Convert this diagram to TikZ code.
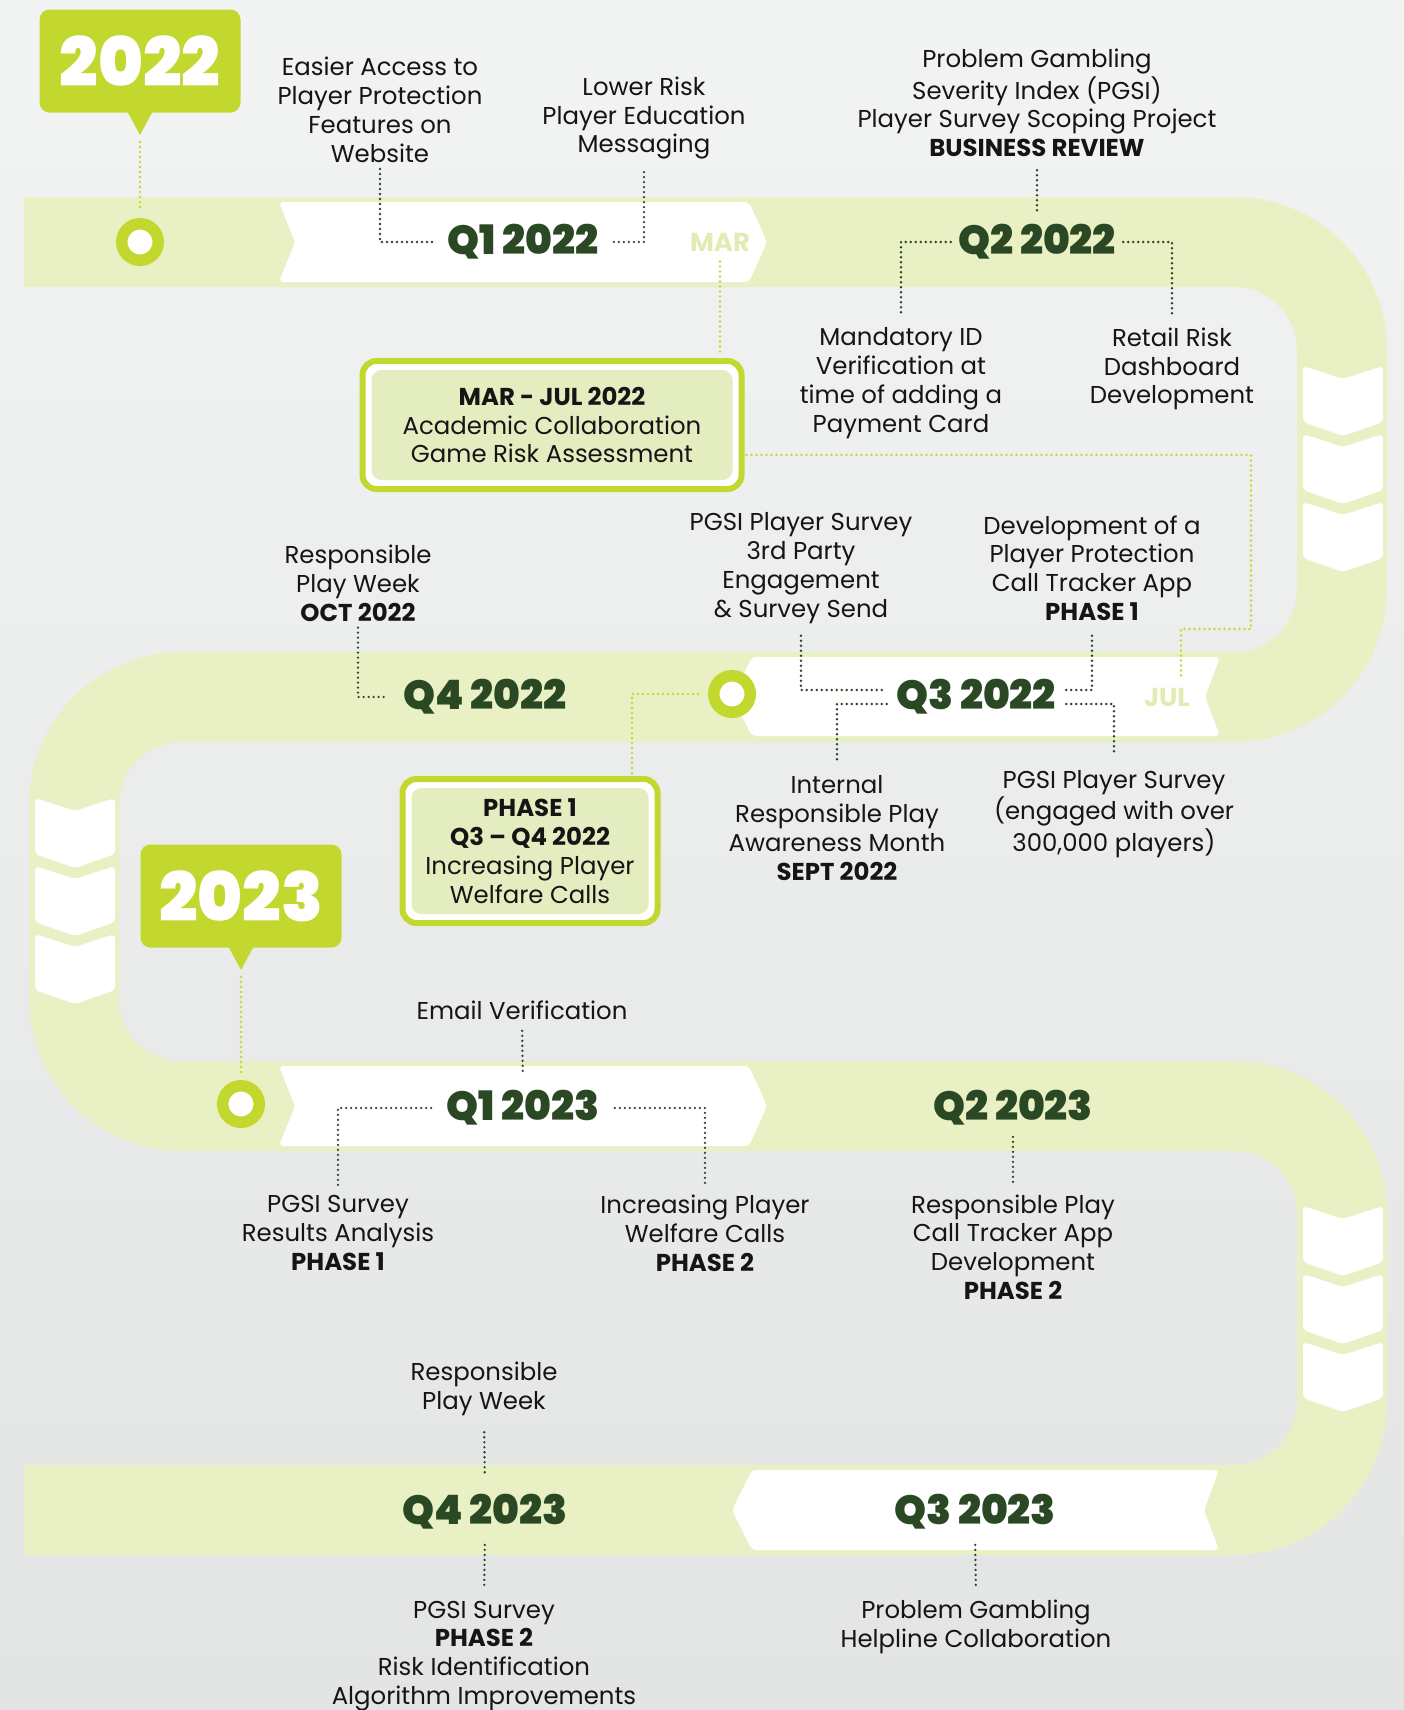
\documentclass[tikz,border=0pt]{standalone}
\usepackage{fontspec}
\setmainfont{Poppins}
\newfontfamily\heavyfont{Poppins Black}
\usetikzlibrary{positioning}

\definecolor{bgtop}{HTML}{F2F3F3}
\definecolor{bgbottom}{HTML}{E3E4E4}
\definecolor{roadgreen}{HTML}{E9F0C4}
\definecolor{lime}{HTML}{C2D82F}
\definecolor{darkgreen}{HTML}{2A4824}
\definecolor{monthgreen}{HTML}{E1ECB4}
\definecolor{boxgreen}{HTML}{E3EDBF}
\definecolor{inktext}{HTML}{151515}

\tikzset{
  quarter/.style={inner sep=0pt, text=darkgreen, font=\heavyfont\fontsize{20.3}{21}\selectfont},
  month/.style={inner sep=0pt, text=monthgreen, font=\bfseries\fontsize{13}{14}\selectfont},
  note/.style={inner sep=0pt, align=center, text=inktext, font=\fontsize{12.2}{14.4}\selectfont},
  darkdot/.style={darkgreen, line width=1.3pt, line cap=round, dash pattern=on 0pt off 2.5pt},
  limedot/.style={lime, line width=1.4pt, line cap=round, dash pattern=on 0pt off 2.5pt},
  ring/.style={circle, draw=lime, line width=5.75pt, fill=white, minimum size=18.25pt, inner sep=0pt},
  yeartag/.style={fill=lime, rounded corners=5pt, minimum width=100.5pt, minimum height=51.5pt,
    inner sep=0pt, text=white, font=\heavyfont\fontsize{34}{34}\selectfont},
  infobox/.style={draw=lime, line width=3pt, fill=white, rounded corners=7pt, inner sep=0pt,
    align=center, text=inktext, font=\fontsize{12.2}{14.4}\selectfont,
    path picture={\fill[boxgreen, rounded corners=5pt]
      ([shift={(4.5pt,4.5pt)}]path picture bounding box.south west) rectangle
      ([shift={(-4.5pt,-4.5pt)}]path picture bounding box.north east);}},
}

\begin{document}
\begin{tikzpicture}[x=0.5pt, y=-0.5pt]
\useasboundingbox (0,0) rectangle (1404,1710);
\shade[top color=bgtop, bottom color=bgbottom] (0,0) rectangle (1404,1710);

% the road
\draw[roadgreen, line width=45pt, rounded corners=54pt]
  (24,242) -- (1342,242) -- (1342,697) -- (74,697) -- (74,1106)
  -- (1342,1106) -- (1342,1510) -- (24,1510);

% chevrons on the bends
\foreach \cx/\cy in {1343/366, 1343/434, 1343/502, 75/798, 75/866, 75/934, 1343/1206, 1343/1274, 1343/1342}
  \fill[white, rounded corners=2pt] ({\cx-40},\cy) -- (\cx,{\cy+13}) -- ({\cx+40},\cy)
    -- ({\cx+40},{\cy+56}) -- (\cx,{\cy+70}) -- ({\cx-40},{\cy+56}) -- cycle;

% white banners
\fill[white, rounded corners=2pt] (279,202) -- (749,202) -- (767,242) -- (749,282) -- (279,282) -- (295,242) -- cycle;
\fill[white, rounded corners=2pt] (1220,657) -- (752,657) -- (732,697) -- (752,736) -- (1220,736) -- (1205,697) -- cycle;
\fill[white, rounded corners=2pt] (279,1066) -- (749,1066) -- (767,1106) -- (749,1146) -- (279,1146) -- (295,1106) -- cycle;
\fill[white, rounded corners=2pt] (1219,1470) -- (752,1470) -- (732,1510) -- (752,1550) -- (1219,1550) -- (1204,1510) -- cycle;

% year tags and rings
\node[yeartag] (tag22) at (140,61) {2022};
\fill[lime] ([xshift=-6.5pt,yshift=1pt]tag22.south) -- ([xshift=6.5pt,yshift=1pt]tag22.south)
  -- ([yshift=-11pt]tag22.south) coordinate (tip22) -- cycle;
\node[yeartag] (tag23) at (241,896) {2023};
\fill[lime] ([xshift=-6.5pt,yshift=1pt]tag23.south) -- ([xshift=6.5pt,yshift=1pt]tag23.south)
  -- ([yshift=-11pt]tag23.south) coordinate (tip23) -- cycle;
\node[ring] (ring22) at (140,242) {};
\node[ring] (ringq3) at (732,694) {};
\node[ring] (ring23) at (241,1104) {};

% quarters and months
\node[quarter] (q1a) at (523,242) {Q1 2022};
\node[quarter] (q2a) at (1037,242) {Q2 2022};
\node[quarter] (q3a) at (976,697) {Q3 2022};
\node[quarter] (q4a) at (485,697) {Q4 2022};
\node[quarter] (q1b) at (523,1108) {Q1 2023};
\node[quarter] (q2b) at (1013,1108) {Q2 2023};
\node[quarter] (q3b) at (975,1512) {Q3 2023};
\node[quarter] (q4b) at (485,1512) {Q4 2023};
\node[month] (mar) at (720,242) {MAR};
\node[month] (jul) at (1167,697) {JUL};
\coordinate (julend) at (1181,678);

% boxes
\node[infobox, minimum width=189.5pt, minimum height=64pt] (marjul) at (552,425)
  {\textbf{MAR - JUL 2022}\\Academic Collaboration\\Game Risk Assessment};
\node[infobox, minimum width=127.5pt, minimum height=72pt] (phaseone) at (530,851)
  {\textbf{PHASE 1}\\\textbf{Q3 – Q4 2022}\\Increasing Player\\Welfare Calls};

% milestones
\node[note] (easier) at (380,110) {Easier Access to\\Player Protection\\Features on\\Website};
\node[note] (lowrisk) at (644,118) {Lower Risk\\Player Education\\Messaging};
\node[note] (scoping) at (1037,103) {Problem Gambling\\Severity Index (PGSI)\\Player Survey Scoping Project\\\textbf{BUSINESS REVIEW}};
\node[note] (mandatory) at (901,383) {Mandatory ID\\Verification at\\time of adding a\\Payment Card};
\node[note] (retail) at (1172,369) {Retail Risk\\Dashboard\\Development};
\node[note] (thirdparty) at (801,568) {PGSI Player Survey\\3rd Party\\Engagement\\\& Survey Send};
\node[note] (tracker) at (1092,568) {Development of a\\Player Protection\\Call Tracker App\\\textbf{PHASE 1}};
\node[note] (rpweek) at (358,583) {Responsible\\Play Week\\\textbf{OCT 2022}};
\node[note] (internal) at (837,828) {Internal\\Responsible Play\\Awareness Month\\\textbf{SEPT 2022}};
\node[note] (engaged) at (1114,814) {PGSI Player Survey\\(engaged with over\\300,000 players)};
\node[note] (email) at (522,1010) {Email Verification};
\node[note] (results) at (338,1233) {PGSI Survey\\Results Analysis\\\textbf{PHASE 1}};
\node[note] (welfare) at (705,1233) {Increasing Player\\Welfare Calls\\\textbf{PHASE 2}};
\node[note] (trackertwo) at (1013,1247) {Responsible Play\\Call Tracker App\\Development\\\textbf{PHASE 2}};
\node[note] (rpweekb) at (484,1389) {Responsible\\Play Week};
\node[note] (surveytwo) at (484,1656) {PGSI Survey\\\textbf{PHASE 2}\\Risk Identification\\Algorithm Improvements};
\node[note] (helpline) at (976,1627) {Problem Gambling\\Helpline Collaboration};

% lime links
\draw[limedot, shorten <=3.5pt, shorten >=4pt] (tip22) -- (ring22);
\draw[limedot, shorten <=3.5pt, shorten >=4pt] (tip23) -- (ring23);
\draw[limedot, shorten <=5pt, shorten >=1pt] (mar.south) -- (mar.south |- marjul.north);
\draw[limedot, shorten <=1pt] ([yshift=-15pt]marjul.east) -| (1251,629) -| (julend);
\draw[limedot, shorten <=5pt, shorten >=1pt] (ringq3.west) -| ([xshift=51pt]phaseone.north);

% dark links
\draw[darkdot, shorten <=3pt, shorten >=7.5pt] (easier.south) |- (q1a.west);
\draw[darkdot, shorten <=7.5pt, shorten >=6pt] (q1a.east) -| (lowrisk.south);
\draw[darkdot, shorten <=6.5pt, shorten >=5pt] (scoping.south) -- (q2a.north);
\draw[darkdot, shorten <=3.5pt, shorten >=7pt] (q2a.west) -| (mandatory.north);
\draw[darkdot, shorten <=3.5pt, shorten >=7pt] (q2a.east) -| (retail.north);
\draw[darkdot, shorten <=6pt, shorten >=4.5pt] (thirdparty.south) |- ([yshift=3.5pt]q3a.west);
\draw[darkdot, shorten <=5pt, shorten >=6pt] ([yshift=3.5pt]q3a.east) -| (tracker.south);
\draw[darkdot, shorten <=4.5pt, shorten >=7.5pt] ([yshift=-3.5pt]q3a.west) -| (internal.north);
\draw[darkdot, shorten <=5pt, shorten >=7.5pt] ([yshift=-3.5pt]q3a.east) -| (engaged.north);
\draw[darkdot, shorten <=3pt, shorten >=7.5pt] (rpweek.south) |- (q4a.west);
\draw[darkdot, shorten <=5.5pt, shorten >=8pt] (email.south) -- (q1b.north);
\draw[darkdot, shorten <=7.5pt, shorten >=5pt] (q1b.west) -| (results.north);
\draw[darkdot, shorten <=7.5pt, shorten >=5pt] (q1b.east) -| (welfare.north);
\draw[darkdot, shorten <=5.5pt, shorten >=5pt] (q2b.south) -- (trackertwo.north);
\draw[darkdot, shorten <=8pt, shorten >=10pt] (rpweekb.south) -- (q4b.north);
\draw[darkdot, shorten <=7.5pt, shorten >=6pt] (q4b.south) -- (surveytwo.north);
\draw[darkdot, shorten <=7.5pt, shorten >=6pt] (q3b.south) -- (helpline.north);
\end{tikzpicture}
\end{document}
